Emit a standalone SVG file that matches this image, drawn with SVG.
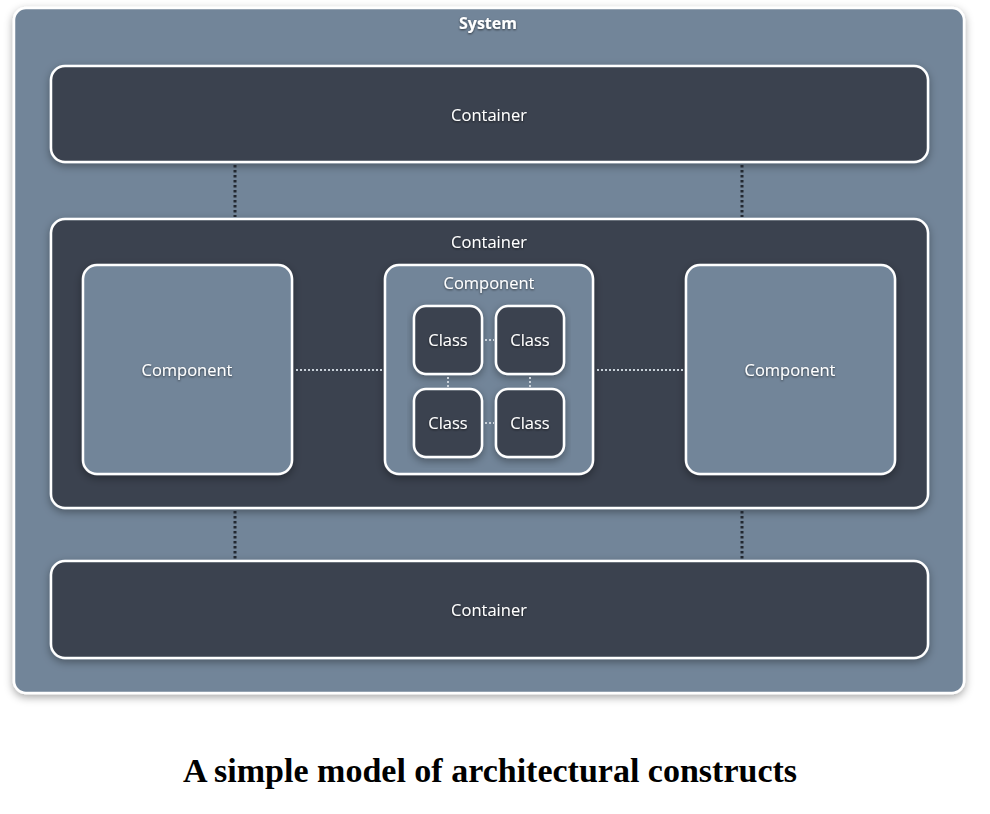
<svg xmlns="http://www.w3.org/2000/svg" width="990" height="814" viewBox="0 0 990 814">
<defs>
<filter id="sh" x="-10%" y="-10%" width="120%" height="125%">
<feDropShadow dx="0" dy="3" stdDeviation="4" flood-color="#000" flood-opacity="0.35"/>
</filter>
<filter id="tsh" x="-10%" y="-30%" width="120%" height="160%">
<feDropShadow dx="0" dy="1" stdDeviation="0.8" flood-color="#000" flood-opacity="0.6"/>
</filter>
<style>
.dark{fill:#3a4350;stroke:#ffffff;stroke-width:2.5;filter:url(#sh)}
.slate{fill:#728599;stroke:#ffffff;stroke-width:2.5;filter:url(#sh)}
.lbl{font-family:"Open Sans","Noto Sans",sans-serif;font-size:16.5px;fill:#ffffff;text-anchor:middle;filter:url(#tsh)}
.title{font-family:"Open Sans","Noto Sans",sans-serif;font-size:16px;font-weight:bold;fill:#ffffff;text-anchor:middle;filter:url(#tsh)}
.dd{stroke:#222831;stroke-width:3;stroke-dasharray:2.5 2.5;fill:none}
.ld{stroke:#c8d0d8;stroke-width:2;stroke-dasharray:2 2;fill:none}
.cap{font-family:"Liberation Serif",serif;font-size:34px;font-weight:bold;fill:#000;text-anchor:middle}
</style>
</defs>
<rect width="990" height="814" fill="#ffffff"/>
<g id="system">
<rect class="slate" x="14" y="8" width="950" height="685" rx="12"/>
<text class="title" x="488" y="29">System</text>
</g>
<g id="container-top">
<rect class="dark" x="51" y="66" width="877" height="96" rx="14"/>
<text class="lbl" x="489" y="121">Container</text>
</g>
<g id="container-mid">
<rect class="dark" x="51" y="219" width="877" height="289" rx="14"/>
<text class="lbl" x="489" y="248">Container</text>
</g>
<g id="container-bottom">
<rect class="dark" x="51" y="561" width="877" height="97" rx="14"/>
<text class="lbl" x="489" y="616">Container</text>
</g>
<g id="component-left">
<rect class="slate" x="83" y="265" width="209" height="209" rx="14"/>
<text class="lbl" x="187" y="376">Component</text>
</g>
<g id="component-mid">
<rect class="slate" x="385" y="265" width="208" height="209" rx="14"/>
<text class="lbl" x="489" y="289">Component</text>
</g>
<g id="component-right">
<rect class="slate" x="686" y="265" width="209" height="209" rx="14"/>
<text class="lbl" x="790" y="376">Component</text>
</g>
<g id="class-1">
<rect class="dark" x="414" y="306" width="68" height="68" rx="12"/>
<text class="lbl" x="448" y="346">Class</text>
</g>
<g id="class-2">
<rect class="dark" x="496" y="306" width="68" height="68" rx="12"/>
<text class="lbl" x="530" y="346">Class</text>
</g>
<g id="class-3">
<rect class="dark" x="414" y="389" width="68" height="68" rx="12"/>
<text class="lbl" x="448" y="429">Class</text>
</g>
<g id="class-4">
<rect class="dark" x="496" y="389" width="68" height="68" rx="12"/>
<text class="lbl" x="530" y="429">Class</text>
</g>
<g id="connectors">
<line class="dd" x1="235" y1="165" x2="235" y2="217"/>
<line class="dd" x1="742" y1="165" x2="742" y2="217"/>
<line class="dd" x1="235" y1="511" x2="235" y2="559"/>
<line class="dd" x1="742" y1="511" x2="742" y2="559"/>
<line class="ld" x1="296" y1="370" x2="383" y2="370"/>
<line class="ld" x1="597" y1="370" x2="685" y2="370"/>
<line class="ld" x1="485" y1="340" x2="494" y2="340"/>
<line class="ld" x1="485" y1="423" x2="494" y2="423"/>
<line class="ld" x1="448" y1="377" x2="448" y2="387"/>
<line class="ld" x1="530" y1="377" x2="530" y2="387"/>
</g>
<text class="cap" x="490" y="782">A simple model of architectural constructs</text>
</svg>
